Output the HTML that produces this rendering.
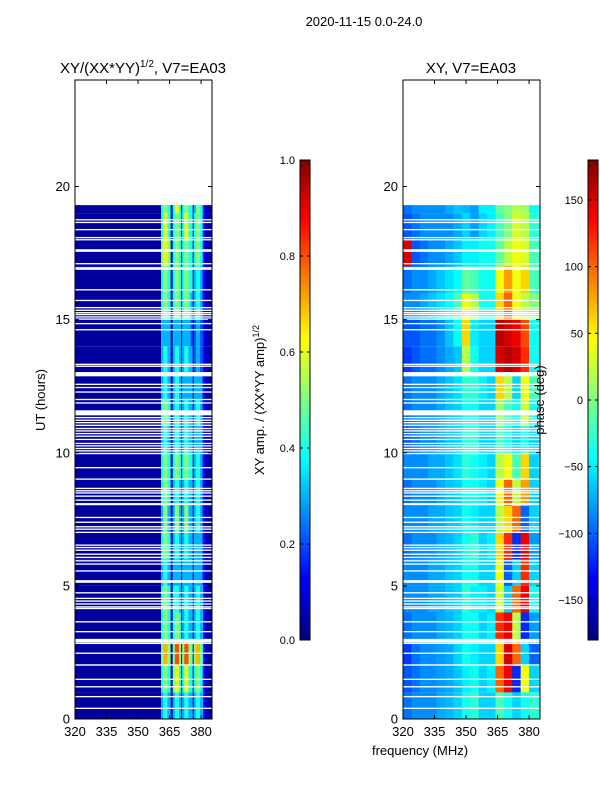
<!DOCTYPE html>
<html><head><meta charset="utf-8"><style>
body{margin:0;background:#fff;width:600px;height:800px;overflow:hidden}
svg{font-family:"Liberation Sans","DejaVu Sans",sans-serif}
</style></head><body>
<svg id="fig" width="600" height="800" viewBox="0 0 600 800" xmlns="http://www.w3.org/2000/svg">
<rect width="600" height="800" fill="#fff"/>
<text x="364" y="26" font-size="13" text-anchor="middle">2020-11-15 0.0-24.0</text>
<text x="143" y="73" font-size="15" text-anchor="middle">XY/(XX*YY)<tspan font-size="10" dy="-6">1/2</tspan><tspan dy="6">, V7=EA03</tspan></text>
<text x="471" y="73" font-size="15" text-anchor="middle">XY, V7=EA03</text>
<text x="45" y="400" font-size="13" text-anchor="middle" transform="rotate(-90 45 400)">UT (hours)</text>
<text x="420" y="755" font-size="13" text-anchor="middle">frequency (MHz)</text>
<text x="264" y="400" font-size="13" text-anchor="middle" transform="rotate(-90 264 400)">XY amp. / (XX*YY amp)<tspan font-size="9" dy="-5">1/2</tspan></text>
<g id="ampPanel"></g>
<g id="phasePanel"></g>
<g id="axes"></g>
<text x="544" y="400" font-size="13" text-anchor="middle" transform="rotate(-90 544 400)">phase (deg)</text>
</svg>
<script>
// ---- data ----
const hourStarts = [0,1,2,3,4,5,6,7,8,9,10,11,12,13,14,15,16,17,18,19];
const dataEnd = 19.3;
const ampFreqs = [361,362,363,364,365,365.5,366.5,367.5,368.5,369.5,370.5,371,372,373,374,375,376,376.5,377.5,378.5,379.5,380.5,381,382];
const lowAmp = 0.03;
const highEdgeAmp = 0.04;
const ampValues = [
[.3,.4,.4,.3,.3,.05,.3,.4,.4,.3,.05,.3,.4,.4,.3,.3,.05,.3,.4,.4,.3,.3,.1,.06],
[.4,.5,.5,.4,.4,.05,.5,.6,.6,.4,.05,.4,.6,.6,.4,.4,.05,.4,.5,.5,.4,.3,.1,.06],
[.5,.7,.7,.5,.5,.05,.5,.8,.8,.5,.05,.5,.8,.8,.5,.5,.05,.5,.7,.7,.5,.4,.1,.06],
[.4,.5,.5,.4,.4,.05,.4,.5,.5,.4,.05,.3,.4,.4,.3,.3,.05,.3,.4,.4,.3,.3,.1,.06],
[.4,.5,.5,.4,.4,.05,.4,.4,.4,.3,.05,.3,.4,.4,.3,.3,.05,.3,.4,.4,.3,.3,.1,.06],
[.3,.4,.4,.3,.3,.05,.3,.3,.3,.3,.05,.3,.3,.3,.3,.3,.05,.3,.3,.3,.3,.2,.1,.06],
[.4,.5,.5,.4,.4,.05,.3,.4,.4,.3,.05,.3,.4,.4,.3,.3,.05,.3,.3,.3,.3,.2,.1,.06],
[.3,.5,.5,.3,.3,.05,.3,.5,.5,.3,.05,.3,.5,.5,.3,.3,.05,.3,.4,.4,.3,.2,.1,.06],
[.4,.5,.5,.4,.4,.05,.3,.4,.4,.3,.05,.3,.4,.4,.3,.3,.05,.3,.4,.4,.3,.2,.1,.06],
[.4,.5,.5,.4,.4,.05,.4,.5,.5,.4,.05,.4,.5,.5,.4,.4,.05,.3,.4,.4,.3,.2,.1,.06],
[.3,.4,.4,.3,.3,.05,.3,.4,.4,.3,.05,.3,.4,.4,.3,.3,.05,.3,.3,.3,.3,.2,.1,.06],
[.4,.5,.5,.4,.4,.05,.3,.4,.4,.3,.05,.3,.4,.4,.3,.3,.05,.3,.4,.4,.3,.2,.1,.06],
[.3,.4,.4,.3,.3,.05,.3,.4,.4,.3,.05,.3,.3,.3,.3,.3,.05,.3,.3,.3,.3,.2,.1,.06],
[.3,.4,.4,.3,.3,.05,.3,.4,.4,.3,.05,.3,.4,.4,.3,.3,.05,.2,.3,.3,.2,.2,.1,.06],
[.3,.3,.3,.3,.3,.05,.3,.3,.3,.3,.05,.3,.3,.3,.3,.2,.05,.2,.3,.3,.2,.2,.1,.06],
[.4,.5,.5,.4,.4,.05,.4,.5,.5,.4,.05,.4,.5,.5,.4,.3,.05,.3,.4,.4,.3,.2,.1,.06],
[.4,.5,.5,.4,.4,.05,.4,.5,.5,.4,.05,.4,.5,.5,.4,.4,.05,.3,.4,.4,.3,.2,.1,.06],
[.5,.6,.6,.5,.5,.05,.4,.5,.5,.4,.05,.4,.5,.5,.4,.4,.05,.4,.5,.5,.4,.3,.1,.06],
[.4,.6,.6,.4,.4,.05,.4,.5,.5,.4,.05,.4,.6,.6,.4,.4,.05,.4,.5,.5,.4,.3,.1,.06],
[.4,.5,.5,.4,.4,.05,.4,.6,.6,.4,.05,.4,.5,.5,.4,.4,.05,.3,.5,.5,.4,.3,.1,.06]];
const phaseFreqs = [320,324,328,332,336,340,344,348,352,356,360,364,368,372,376,380];
const phaseValues = [
[-95,-85,-85,-85,-75,-70,-60,-40,-30,-60,-60,-20,-40,-60,-40,-30],
[-105,-95,-85,-85,-80,-75,-65,-50,-40,-60,-50,100,140,-120,40,-60],
[-115,-95,-85,-85,-80,-75,-60,-40,-50,-60,-60,60,150,100,-60,-100],
[-95,-85,-85,-85,-75,-70,-60,-40,-40,-60,-50,120,140,20,-120,-80],
[-85,-85,-85,-75,-75,-65,-60,-30,-50,-50,-60,30,-60,100,140,-40],
[-85,-85,-85,-75,-75,-65,-60,-40,-40,-60,-60,40,-100,-60,120,-60],
[-95,-85,-85,-85,-75,-70,-60,-40,-30,-60,-50,60,120,-120,140,-80],
[-85,-85,-85,-75,-75,-65,-60,-40,-50,-60,-60,20,60,100,-100,-60],
[-95,-85,-85,-85,-75,-65,-60,-40,-40,-50,-60,40,100,20,80,-60],
[-85,-85,-85,-75,-75,-65,-55,-30,-40,-50,-60,20,40,-20,60,-60],
[-105,-95,-85,-85,-75,-65,-60,-30,-30,-60,-60,-20,-40,-60,-40,-60],
[-95,-85,-85,-85,-75,-65,-60,-40,-40,-60,-60,10,-20,-40,30,-40],
[-95,-85,-85,-85,-75,-65,-55,-30,-30,-50,-60,60,20,-60,40,-20],
[-115,-105,-95,-95,-85,-75,-65,20,-40,-60,-60,150,160,150,120,-40],
[-105,-105,-95,-95,-85,-65,-45,60,-50,-60,-60,160,150,140,110,-40],
[-85,-85,-75,-65,-55,-45,-20,40,20,-40,-40,60,100,40,20,0],
[-95,-85,-85,-75,-65,-55,-45,-10,-20,-40,-40,40,80,40,60,-20],
[150,-105,-95,-85,-85,-75,-65,-50,-50,-40,-40,-10,20,40,30,-20],
[-105,-95,-85,-85,-85,-85,-75,-60,-80,-60,-50,-20,0,30,20,-30],
[-95,-85,-85,-85,-85,-75,-65,-70,-80,-50,-50,-10,0,20,10,-40]];
const gapHours = [18.75,18.65,18.38,18.08,18.0,17.62,17.57,17.10,16.92,16.12,15.72,15.45,15.35,15.26,15.19,15.10,15.02,14.85,14.62,13.32,13.25,12.95,12.57,12.45,12.28,12.0,11.87,11.5,11.32,11.22,11.13,11.03,10.91,10.82,10.72,10.62,10.5,10.35,10.26,10.16,10.07,9.97,9.44,9.01,8.66,8.57,8.49,8.37,8.22,8.07,7.57,7.39,7.22,7.13,7.01,6.53,6.44,6.34,6.19,6.07,5.94,5.82,5.56,5.19,5.14,4.74,4.53,4.43,4.32,4.21,4.15,3.65,3.28,2.96,2.90,2.84,2.47,2.03,1.49,1.21,0.84,0.40];
const gapWidths = {16.92:0.1,12.95:0.16,11.5:0.19,8.07:0.08,2.96:0.1};
const timeTicks = [0,5,10,15,20];
const freqTicks = [320,335,350,365,380];
const ampTicks = [0.0,0.2,0.4,0.6,0.8,1.0];
const phaseTicks = [-150,-100,-50,0,50,100,150];

// ---- scales ----
const Y0=719, Y1=80, T0=0, T1=24;
const yScale = h => Y0 - (h-T0)/(T1-T0)*(Y0-Y1);
const F0=320, F1=385.2;
function xScale(left){ return f => left + (f-F0)/(F1-F0)*137; }
const xA = xScale(75), xP = xScale(403);
const ampCb = v => 640 - v*480;
const phCb = v => 640 - (v+180)/360*480;

function jet(x){
  x=Math.max(0,Math.min(1,x));
  const c=v=>Math.round(255*Math.max(0,Math.min(1,v)));
  return `rgb(${c(1.5-Math.abs(4*x-3))},${c(1.5-Math.abs(4*x-2))},${c(1.5-Math.abs(4*x-1))})`;
}
const NS="http://www.w3.org/2000/svg";
function mk(parent,tag,attrs){const e=document.createElementNS(NS,tag);for(const k in attrs)e.setAttribute(k,attrs[k]);parent.appendChild(e);return e;}

// amp heatmap
const gA=document.getElementById('ampPanel');
const ampEnd=383;
hourStarts.forEach((h,i)=>{
  const hEnd=Math.min(h+1,dataEnd);
  const y=yScale(hEnd), hh=yScale(h)-y;
  let r=mk(gA,'rect',{x:xA(F0),y:y,width:xA(ampFreqs[0])-xA(F0),height:hh,fill:jet(lowAmp)});
  
  
  ampFreqs.forEach((f,j)=>{
    const fe=j<ampFreqs.length-1?ampFreqs[j+1]:ampEnd;
    const c=mk(gA,'rect',{x:xA(f),y:y,width:xA(fe)-xA(f)+0.3,height:hh,fill:jet(ampValues[i][j])});
    
    
  });
  r=mk(gA,'rect',{x:xA(ampEnd),y:y,width:xA(F1)-xA(ampEnd),height:hh,fill:jet(highEdgeAmp)});
  
  
});
// phase heatmap
const gP=document.getElementById('phasePanel');
hourStarts.forEach((h,i)=>{
  const hEnd=Math.min(h+1,dataEnd);
  const y=yScale(hEnd), hh=yScale(h)-y;
  phaseFreqs.forEach((f,j)=>{
    const fe = j<phaseFreqs.length-1?phaseFreqs[j+1]:F1;
    const c=mk(gP,'rect',{x:xP(f),y:y,width:xP(fe)-xP(f)+0.3,height:hh,fill:jet((phaseValues[i][j]+180)/360)});
    
    
  });
});
// gaps
[[gA,xA],[gP,xP]].forEach(([g,xs])=>{
  gapHours.forEach(gh=>{
    const w=gapWidths[gh]||0.05;
    const r=mk(g,'rect',{x:xs(F0),y:yScale(gh+w/2),width:137,height:Math.max(1.3,yScale(gh-w/2)-yScale(gh+w/2)),fill:'#fff'});
    
    
  });
});
// axes
const ax=document.getElementById('axes');
[75,403].forEach((L,pi)=>{
  const xs=pi?xP:xA;
  const fr=mk(ax,'rect',{x:L,y:80,width:137,height:639,fill:'none',stroke:'#000','stroke-width':1});
  
  
  timeTicks.forEach(t=>{
    const y=yScale(t);
    mk(ax,'line',{x1:L,x2:L+4,y1:y,y2:y,stroke:'#000'});
    mk(ax,'line',{x1:L+137,x2:L+133,y1:y,y2:y,stroke:'#000'});
    const tx=mk(ax,'text',{x:L-5,y:y+4.5,'font-size':13,'text-anchor':'end'});tx.textContent=t;
    
    
  });
  freqTicks.forEach(f=>{
    const x=xs(f);
    mk(ax,'line',{x1:x,x2:x,y1:719,y2:715,stroke:'#000'});
    mk(ax,'line',{x1:x,x2:x,y1:80,y2:84,stroke:'#000'});
    const tx=mk(ax,'text',{x:x,y:736,'font-size':13,'text-anchor':'middle'});tx.textContent=f;
    
    
  });
});
// colorbars
function colorbar(x,ticks,scale,fmt,name){
  const g=mk(ax,'g',{});
  
  
  for(let i=0;i<240;i++){
    const v=i/240;
    mk(g,'rect',{x:x,y:640-(i+1)*2,width:10,height:2.3,fill:jet(v)});
  }
  mk(g,'rect',{x:x,y:160,width:10,height:480,fill:'none',stroke:'#000'});
  ticks.forEach(t=>{
    const y=scale(t);
    mk(g,'line',{x1:x,x2:x+3,y1:y,y2:y,stroke:'#000'});
    mk(g,'line',{x1:x+10,x2:x+7,y1:y,y2:y,stroke:'#000'});
    const tx=mk(g,'text',{x:x-5,y:y+4,'font-size':11,'text-anchor':'end'});tx.textContent=fmt(t);
    
    
  });
}
colorbar(300,ampTicks,ampCb,t=>t.toFixed(1),'amp-colorbar');
colorbar(588,phaseTicks,phCb,t=>t<0?'\u2212'+(-t):String(t),'phase-colorbar');
</script>
</body></html>
